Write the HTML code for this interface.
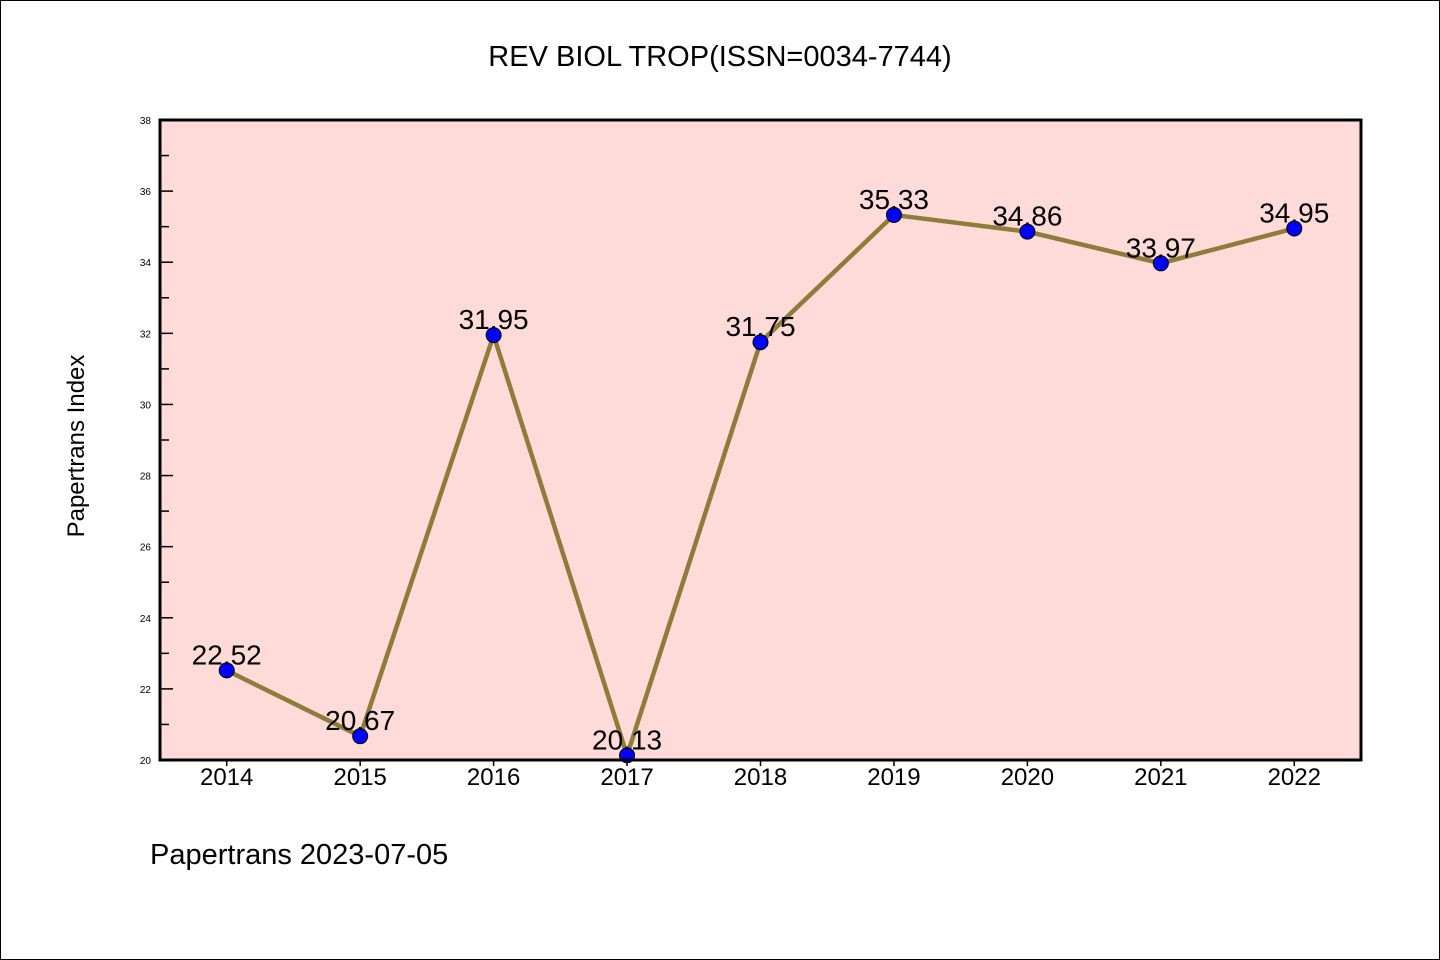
<!DOCTYPE html>
<html><head><meta charset="utf-8"><style>
body{margin:0;background:#fff}
svg{display:block}
text{font-family:"WenQuanYi Zen Hei","Liberation Sans",sans-serif}
</style></head><body>
<svg id="chart" width="1440" height="960">
<rect x="0.5" y="0.5" width="1439" height="959" fill="#fff" stroke="#000"/>
<text x="720" y="66" font-size="29" text-anchor="middle">REV BIOL TROP(ISSN=0034-7744)</text>
<rect x="160" y="120" width="1201" height="640" fill="#fedbd8"/>
<g id="ticks"></g>
<g id="series"></g>
<rect x="160" y="120" width="1201" height="640" fill="none" stroke="#000" stroke-width="3"/>
<text transform="translate(84,446) rotate(-90)" font-size="24" text-anchor="middle">Papertrans Index</text>
<text x="150" y="864" font-size="29">Papertrans 2023-07-05</text>
</svg>
<script>
const years=[2014,2015,2016,2017,2018,2019,2020,2021,2022];
const values=[22.52,20.67,31.95,20.13,31.75,35.33,34.86,33.97,34.95];
const yTicks=[20,22,24,26,28,30,32,34,36,38];
const NS='http://www.w3.org/2000/svg';
const x=v=>160+(v-2013.5)/9*1201;
const y=v=>760-(v-20)/18*640;
function mk(t,a,p){const e=document.createElementNS(NS,t);for(const k in a)e.setAttribute(k,a[k]);p.appendChild(e);return e;}
const tg=document.getElementById('ticks'),sg=document.getElementById('series');
yTicks.forEach(v=>{
 const l=mk('line',{x1:160,x2:173,y1:y(v),y2:y(v),stroke:'#000','stroke-width':1.5},tg);
 
 
 const t=mk('text',{x:151,y:y(v)+4,'font-size':10,'text-anchor':'end'},tg);t.textContent=v;
 
 
 if(v<38){const m=mk('line',{x1:160,x2:169,y1:y(v+1),y2:y(v+1),stroke:'#000','stroke-width':1.5},tg);
 
 }
});
years.forEach(yr=>{
 const l=mk('line',{x1:x(yr),x2:x(yr),y1:760,y2:766,stroke:'#000','stroke-width':1.5},tg);
 
 
 const t=mk('text',{x:x(yr),y:785,'font-size':24,'text-anchor':'middle'},tg);t.textContent=yr;
 
 
});
const pl=mk('polyline',{points:years.map((yr,i)=>x(yr)+','+y(values[i])).join(' '),fill:'none',stroke:'#8f7b3a','stroke-width':4.5},sg);


years.forEach((yr,i)=>{
 const c=mk('circle',{cx:x(yr),cy:y(values[i]),r:7.5,fill:'#0000ff',stroke:'#000','stroke-width':1},sg);
 
 
 const t=mk('text',{x:x(yr),y:y(values[i])-6,'font-size':28,'text-anchor':'middle'},sg);t.textContent=values[i].toFixed(2);
 
 
});
</script>
</body></html>
